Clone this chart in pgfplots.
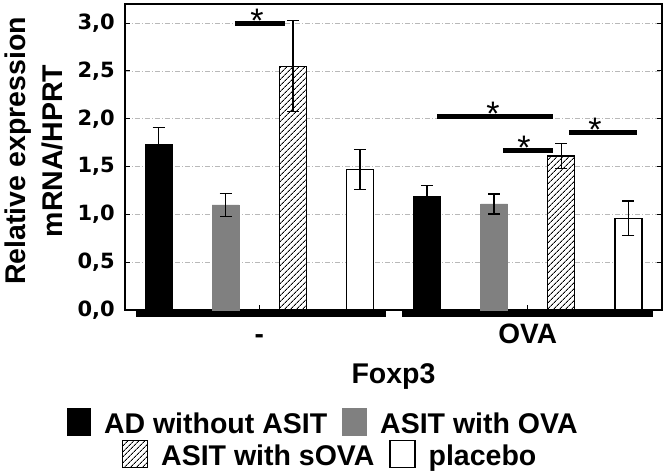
\documentclass[border=0pt]{standalone}
\usepackage{pgfplots}
\pgfplotsset{compat=1.18}
\usepackage{fontspec}
\setmainfont{Liberation Sans}
\newfontfamily\tickfont{DejaVu Sans}
\usetikzlibrary{patterns.meta}

\pgfplotsset{
  myerr/.style={error bars/.cd, y dir=both, y explicit,
    error bar style={line width=1.5pt, black},
    error mark options={rotate=90, mark size=6pt, line width=1.5pt, black}, /pgfplots/.cd},
  mylegend/.style={legend columns=2,
    legend style={anchor=north west, draw=none, fill=none, inner sep=0pt, outer sep=0pt,
      cells={anchor=base west},
      nodes={inner sep=0pt, font=\bfseries\fontsize{28.5}{30}\selectfont},
      column sep=0pt,
      /tikz/every odd column/.append style={column sep=13pt},
      /tikz/every even column/.append style={column sep=15pt}}},
  hatch/.style={fill=white, draw=black, line width=1.2pt,
    postaction={pattern={Lines[angle=45,distance=4pt,line width=0.9pt]}}},
}

\begin{document}
\begin{tikzpicture}
\begin{axis}[
  scale only axis, width=537pt, height=306pt,
  xmin=-0.5, xmax=7.5, ymin=0, ymax=3.2,
  clip=false,
  axis line style={line width=1.5pt},
  tick align=inside, xtick pos=bottom,
  major tick length=5pt,
  tick style={line width=1pt, black},
  xtick={1.5,5.5}, xticklabels={-,OVA},
  ytick={0,0.5,1,1.5,2,2.5,3},
  ymajorgrids,
  major grid style={gray!55, line width=0.8pt, dash pattern=on 5pt off 2pt on 1pt off 2pt},
  /pgf/number format/assume math mode=true,
  yticklabel style={/pgf/number format/fixed, /pgf/number format/fixed zerofill,
    /pgf/number format/precision=1, /pgf/number format/use comma,
    /pgf/number format/assume math mode=true,
    inner sep=0pt, xshift=-10pt, font=\fontsize{21}{24}\tickfont\bfseries},
  xticklabel style={anchor=base, yshift=-33pt, inner sep=0pt, font=\bfseries\fontsize{28}{30}\selectfont},
  xlabel={Foxp3},
  xlabel style={at={(axis description cs:0.5,-0.2386)}, anchor=base, inner sep=0pt,
    font=\bfseries\fontsize{28.5}{30}\selectfont},
  ylabel={Relative expression\\mRNA/HPRT},
  ylabel style={at={(axis description cs:-0.1695,0.52)}, anchor=center, align=center, inner sep=0pt,
    font=\bfseries\fontsize{28.5}{37}\selectfont},
  mylegend,
  legend style={at={(axis description cs:-0.108,-0.3203)}},
]
% data
\addplot[forget plot, ybar, bar width=27pt, bar shift=0pt, fill=black, draw=black, myerr]
  coordinates {(0,1.73) +- (0,0.18) (4,1.19) +- (0,0.11)};
\addplot[forget plot, ybar, bar width=27pt, bar shift=0pt, fill=gray, draw=gray, myerr]
  coordinates {(1,1.10) +- (0,0.12) (5,1.11) +- (0,0.105)};
\addplot[forget plot, ybar, bar width=27pt, bar shift=0pt, hatch, myerr]
  coordinates {(2,2.55) +- (0,0.475) (6,1.61) +- (0,0.13)};
\addplot[forget plot, ybar, bar width=27pt, bar shift=0pt, fill=white, draw=black, line width=1.2pt, myerr]
  coordinates {(3,1.47) +- (0,0.21) (7,0.96) +- (0,0.18)};
% significance lines
\addplot[black, line width=5pt, forget plot] coordinates {(1.138,3.0) (1.883,3.0)};
\addplot[black, line width=5pt, forget plot] coordinates {(4.148,2.02) (5.876,2.02)};
\addplot[black, line width=5pt, forget plot] coordinates {(5.131,1.673) (5.876,1.673)};
\addplot[black, line width=5pt, forget plot] coordinates {(6.114,1.855) (7.126,1.855)};
% group underlines
\addplot[black, line width=5.5pt, forget plot] coordinates {(-0.337,-0.042) (3.388,-0.042)};
\addplot[black, line width=5.5pt, forget plot] coordinates {(3.626,-0.042) (7.366,-0.042)};
\node[anchor=base, yshift=-9pt, font=\fontsize{34}{34}\selectfont] at (axis cs:1.466,3.0) {*};
\node[anchor=base, yshift=-9pt, font=\fontsize{34}{34}\selectfont] at (axis cs:4.982,2.02) {*};
\node[anchor=base, yshift=-9pt, font=\fontsize{34}{34}\selectfont] at (axis cs:5.444,1.673) {*};
\node[anchor=base, yshift=-9pt, font=\fontsize{34}{34}\selectfont] at (axis cs:6.501,1.855) {*};
% legend row 1
\addlegendimage{legend image code/.code={\draw[fill=black, draw=black, line width=1pt] (0pt,-2pt) rectangle (23pt,25pt);}}
\addlegendentry{AD without ASIT}
\addlegendimage{legend image code/.code={\draw[fill=gray, draw=gray, line width=1pt] (0pt,-2pt) rectangle (24pt,25pt);}}
\addlegendentry{ASIT with OVA}
\end{axis}
\begin{axis}[
  scale only axis, width=537pt, height=306pt, hide axis,
  xmin=0, xmax=1, ymin=0, ymax=1,
  mylegend,
  legend style={at={(axis description cs:-0.0056,-0.4248)}},
]
\addlegendimage{legend image code/.code={\draw[fill=white, draw=black, line width=1.2pt, postaction={pattern={Lines[angle=45,distance=4pt,line width=0.9pt]}}] (0pt,-2pt) rectangle (25pt,25pt);}}
\addlegendentry{ASIT with sOVA}
\addlegendimage{legend image code/.code={\draw[fill=white, draw=black, line width=1.2pt] (0pt,-2pt) rectangle (25pt,25pt);}}
\addlegendentry{placebo}
\end{axis}
\pgfresetboundingbox
\path[use as bounding box] (-125pt,-164pt) rectangle (541pt,310pt);
\end{tikzpicture}
\end{document}
